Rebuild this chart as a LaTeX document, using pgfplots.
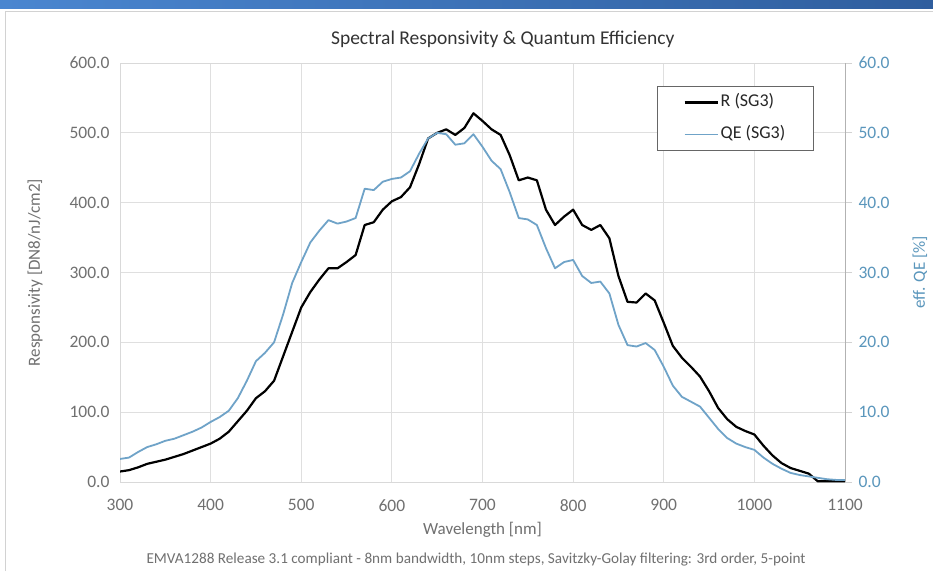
\documentclass[border=0pt]{standalone}
\usepackage{fontspec}
\setmainfont{Carlito}
\usepackage{pgfplots}
\usepackage{pgfplotstable}
\pgfplotsset{compat=1.18}
\definecolor{qeblue}{HTML}{6FA3C8}
\definecolor{qetext}{HTML}{5A96BC}
\definecolor{txtgray}{HTML}{707070}
\definecolor{stripL}{HTML}{4A86D0}
\definecolor{stripR}{HTML}{2F5E9E}

% wavelength [nm], responsivity [DN8/nJ/cm2], QE [%]
\pgfplotstableread{
lam R QE
300 15 3.3
310 17 3.5
320 21 4.3
330 26 5.0
340 29 5.4
350 32 5.9
360 36 6.2
370 40 6.7
380 45 7.2
390 50 7.8
400 55 8.6
410 62 9.3
420 72 10.2
430 87 12.0
440 102 14.5
450 120 17.3
460 130 18.5
470 145 20.0
480 180 24.0
490 215 28.5
500 250 31.5
510 272 34.3
520 290 36.0
530 306 37.5
540 306 37.0
550 315 37.3
560 325 37.8
570 368 42.0
580 372 41.8
590 390 43.0
600 402 43.4
610 408 43.6
620 422 44.5
630 455 47.0
640 492 49.2
650 500 50.0
660 505 49.8
670 497 48.3
680 507 48.5
690 528 49.8
700 517 48.0
710 505 46.0
720 497 44.8
730 468 41.5
740 432 37.8
750 436 37.6
760 432 36.8
770 390 33.5
780 368 30.6
790 380 31.5
800 390 31.8
810 368 29.5
820 361 28.5
830 368 28.7
840 349 27.0
850 295 22.5
860 258 19.6
870 257 19.4
880 270 19.9
890 260 18.9
900 228 16.5
910 195 13.8
920 178 12.2
930 165 11.5
940 151 10.8
950 130 9.2
960 106 7.6
970 90 6.3
980 79 5.5
990 73 5.0
1000 68 4.6
1010 52 3.5
1020 38 2.6
1030 27 1.9
1040 20 1.3
1050 16 1.0
1060 12 0.8
1070 1 0.6
1080 1 0.4
1090 1 0.3
1100 1 0.3
}\spectab

\begin{document}
\begin{tikzpicture}[x=1pt,y=1pt]
\path[use as bounding box] (0,0) rectangle (933,571);
\fill[white] (0,0) rectangle (933,571);
\shade[left color=stripL, right color=stripR] (0,562) rectangle (933,571);
\draw[gray!35, line width=1pt] (5,0) -- (5,559) -- (933,559);

\pgfplotsset{
  every axis/.append style={
    at={(120pt,89pt)}, anchor=south west,
    width=725pt, height=419pt, scale only axis,
    xmin=300, xmax=1100,
    scaled ticks=false,
    /pgf/number format/assume math mode=true,
    /pgf/number format/1000 sep={},
    tick label style={font=\fontsize{17.5}{20}\selectfont},
    label style={font=\fontsize{17}{20}\selectfont},
  },
}

\begin{axis}[
  ymin=0, ymax=600,
  xtick={300,400,...,1100},
  ytick={0,100,...,600},
  grid=major,
  major grid style={gray!25, line width=0.9pt},
  axis line style={gray!30, line width=0.9pt},
  major tick length=0pt,
  ticklabel style={text=txtgray},
  yticklabel style={/pgf/number format/.cd, fixed, fixed zerofill, precision=1, /tikz/.cd, xshift=-7pt},
  xticklabel style={yshift=-14pt},
  xlabel={Wavelength [nm]},
  ylabel={Responsivity [DN8/nJ/cm2]},
  label style={text=txtgray},
  xlabel style={at={(axis description cs:0.5,-0.114)}, anchor=center},
  ylabel style={at={(axis description cs:-0.117,0.5)}, anchor=center},
  title={Spectral Responsivity \& Quantum Efficiency},
  title style={at={(axis description cs:0.528,1.043)}, anchor=center,
    font=\fontsize{19.5}{22}\selectfont, text=black!80},
]
\addplot[black, line width=2.2pt, line join=round] table[x=lam, y=R] {\spectab};
\end{axis}

\begin{axis}[
  ymin=0, ymax=60,
  axis x line=none,
  axis y line*=right,
  ytick={0,10,...,60},
  axis line style={gray!60, line width=1pt, -},
  major tick length=7pt,
  tick align=outside,
  tick style={gray!35, line width=0.9pt},
  yticklabel style={/pgf/number format/.cd, fixed, fixed zerofill, precision=1, /tikz/.cd, text=qetext, xshift=3pt},
  ylabel={eff. QE [\%]},
  ylabel style={at={(axis description cs:1.1034,0.5)}, anchor=center, text=qetext},
  legend style={
    at={(0.7407,0.945)}, anchor=north west,
    draw=black!60, line width=0.9pt, fill=white,
    inner xsep=26pt, inner ysep=8pt, row sep=16pt,
    font=\fontsize{18}{20}\selectfont, text=black!85,
    nodes={inner xsep=2pt, inner ysep=0pt, text height=12.5pt, text depth=3.5pt},
  },
  legend cell align=left,
  legend image code/.code={\draw[#1] (0pt,0pt) -- (33pt,0pt);},
]
\addlegendimage{black, line width=2.2pt}
\addlegendentry{R (SG3)}
\addplot[qeblue, line width=1.8pt, line join=round] table[x=lam, y=QE] {\spectab};
\addlegendentry{QE (SG3)}
\end{axis}

\node[font=\fontsize{15.2}{17}\selectfont, text=txtgray] at (476,11)
  {EMVA1288 Release 3.1 compliant - 8nm bandwidth, 10nm steps, Savitzky-Golay filtering: 3rd order, 5-point};
\end{tikzpicture}
\end{document}
